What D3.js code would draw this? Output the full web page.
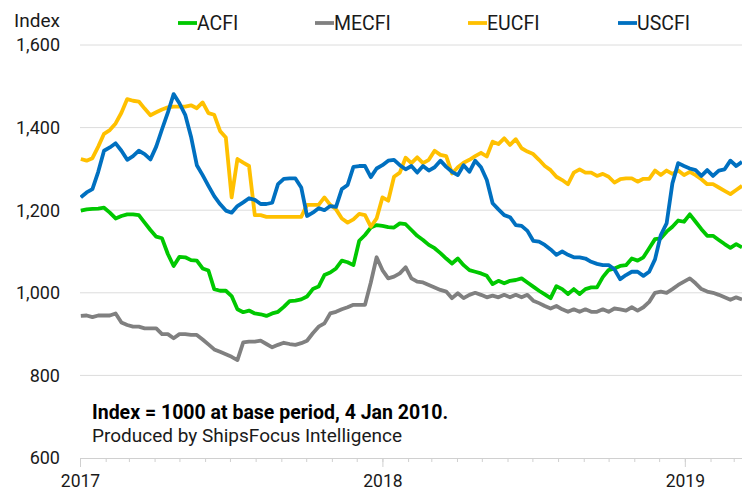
<!DOCTYPE html>
<html><head><meta charset="utf-8">
<script src="https://cdn.jsdelivr.net/npm/d3@7"></script>
<style>
html,body{margin:0;padding:0;background:#fff;}
svg{display:block;font-family:Roboto,"Noto Sans",sans-serif;}
</style></head>
<body><svg id="c" width="742" height="493"></svg>
<script>
// weekly observations starting Monday 2 Jan 2017 (115 weeks)
const firstWeek = "2017-01-02";
const weekCount = 115;
const seriesNames = ["ACFI","MECFI","EUCFI","USCFI"];
const seriesColors = ["#00c800","#808080","#ffc000","#0070c0"];
const yTicks = [600,800,1000,1200,1400,1600];
const xYears = ["2017","2018","2019"];

const ACFI = [1199,1202,1203,1204,1206,1194,1180,1186,1190,1190,1188,1170,1152,1136,1132,1094,1065,1087,1086,1079,1078,1059,1054,1009,1005,1005,992,960,953,957,950,948,944,950,954,966,980,981,984,991,1009,1015,1043,1049,1059,1078,1074,1067,1126,1140,1158,1164,1162,1159,1158,1168,1166,1152,1138,1128,1116,1108,1096,1083,1071,1083,1067,1055,1051,1047,1041,1021,1029,1023,1029,1031,1035,1025,1015,1005,996,987,1016,1009,997,1009,997,1009,1013,1013,1038,1055,1059,1065,1067,1083,1078,1086,1108,1130,1132,1148,1160,1175,1172,1190,1172,1154,1138,1138,1128,1118,1109,1118,1110];
const MECFI = [944,945,941,945,945,945,950,928,922,918,918,914,914,914,900,900,890,900,900,898,898,887,875,863,857,851,845,837,880,882,882,884,876,868,874,879,876,874,878,884,902,918,926,950,954,960,965,971,971,971,1025,1086,1055,1035,1039,1047,1062,1035,1027,1025,1019,1013,1007,1003,987,999,987,995,1000,995,989,993,989,995,989,995,989,995,981,975,968,962,968,960,954,960,954,960,954,954,960,954,962,960,957,965,957,965,978,1000,1003,1000,1009,1019,1027,1035,1023,1009,1003,1000,995,989,983,989,984];
const EUCFI = [1324,1320,1326,1354,1385,1394,1410,1436,1469,1465,1463,1446,1430,1437,1444,1449,1451,1451,1451,1454,1447,1461,1435,1431,1392,1376,1231,1324,1315,1307,1188,1188,1184,1184,1184,1184,1184,1184,1184,1213,1213,1213,1231,1213,1202,1180,1170,1178,1191,1188,1160,1180,1231,1223,1281,1291,1327,1314,1328,1314,1322,1344,1334,1331,1289,1304,1315,1322,1331,1339,1330,1366,1360,1374,1358,1372,1350,1342,1336,1322,1307,1297,1281,1273,1263,1291,1299,1291,1291,1283,1288,1281,1267,1275,1277,1277,1269,1276,1276,1296,1285,1296,1288,1296,1285,1293,1285,1275,1263,1263,1255,1247,1239,1249,1259];
const USCFI = [1231,1243,1251,1293,1344,1352,1362,1344,1322,1331,1344,1336,1323,1354,1396,1436,1481,1459,1431,1378,1309,1285,1259,1234,1215,1199,1194,1210,1219,1229,1225,1215,1215,1218,1263,1276,1277,1277,1255,1186,1194,1205,1200,1210,1208,1251,1261,1305,1307,1307,1280,1301,1309,1320,1322,1309,1299,1307,1291,1307,1296,1304,1320,1305,1293,1285,1309,1293,1320,1304,1273,1217,1202,1188,1183,1164,1162,1150,1126,1124,1116,1105,1092,1100,1092,1086,1086,1083,1075,1070,1067,1067,1057,1033,1043,1051,1051,1041,1051,1081,1140,1168,1265,1314,1307,1301,1297,1283,1297,1283,1296,1299,1320,1307,1317];
const seriesValues = [ACFI, MECFI, EUCFI, USCFI];

const parse = d3.timeParse("%Y-%m-%d");
const start = parse(firstWeek);
const dates = d3.range(weekCount).map(i => d3.timeDay.offset(start, 7 * i));

const svg = d3.select("#c");
const L = 80, R = 742, T = 45, B = 458;
const x = d3.scaleTime().domain([parse("2017-01-01"), parse("2019-03-11")]).range([L, R]);
const y = d3.scaleLinear().domain([600, 1600]).range([B, T]);
const ink = "#1a1a1a";

// gridlines
svg.append("g").selectAll("line").data(yTicks.filter(v => v > 600)).join("line")
  .attr("x1", L).attr("x2", R).attr("y1", d => y(d)).attr("y2", d => y(d))
  .attr("stroke", "#dcdcdc").attr("stroke-width", 1);

// y labels
svg.append("g").selectAll("text").data(yTicks).join("text")
  .attr("x", 60).attr("y", d => y(d)).attr("dy", "0.36em")
  .attr("text-anchor", "end").attr("font-size", 18).attr("fill", ink)
  .text(d => d3.format(",")(d));

svg.append("text").attr("x", 14).attr("y", 27).attr("font-size", 19).attr("fill", ink).text("Index");

// x axis: monthly minor ticks, yearly ticks with labels
const gx = svg.append("g").attr("transform", `translate(0,${B})`);
gx.call(d3.axisBottom(x).ticks(d3.timeMonth.every(1)).tickSize(4).tickFormat(""));
gx.call(g => g.selectAll("line").attr("stroke", "#d0d0d0"));
gx.call(g => g.select(".domain").attr("stroke", "#d0d0d0"));
const years = xYears.map(s => parse(s + "-01-01"));
const gy = svg.append("g").attr("transform", `translate(0,${B})`);
gy.call(d3.axisBottom(x).tickValues(years).tickSize(9).tickPadding(8).tickFormat(d3.timeFormat("%Y")));
gy.select(".domain").remove();
gy.selectAll("line").attr("stroke", "#d0d0d0");
gy.selectAll("text").attr("font-size", 17.5).attr("fill", ink).attr("font-family", "Roboto,sans-serif");

// clip
svg.append("clipPath").attr("id", "clip").append("rect").attr("x", L).attr("y", 0).attr("width", R - L).attr("height", 493);

const line = d3.line().x((d, i) => x(dates[i])).y(d => y(d)).curve(d3.curveLinear);
svg.append("g").attr("clip-path", "url(#clip)").selectAll("path").data(seriesValues).join("path")
  .attr("d", d => line(d)).attr("fill", "none")
  .attr("stroke", (d, i) => seriesColors[i]).attr("stroke-width", 3.8)
  .attr("stroke-linejoin", "round").attr("stroke-linecap", "butt");

// legend
const legX = [178, 315, 468, 618];
const lg = svg.append("g").selectAll("g").data(seriesNames).join("g")
  .attr("transform", (d, i) => `translate(${legX[i]},23)`);
lg.append("line").attr("x1", 0).attr("x2", 19).attr("stroke", (d, i) => seriesColors[i]).attr("stroke-width", 3.8);
lg.append("text").attr("x", 19).attr("dy", "0.36em").attr("font-size", 19.5).attr("fill", ink).text(d => d);

// note
svg.append("text").attr("x", 92).attr("y", 419).attr("font-size", 19.5).attr("font-weight", "bold").attr("fill", "#000")
  .text("Index = 1000 at base period, 4 Jan 2010.");
svg.append("text").attr("x", 92).attr("y", 442).attr("font-size", 19).attr("fill", ink)
  .text("Produced by ShipsFocus Intelligence");
</script></body></html>
